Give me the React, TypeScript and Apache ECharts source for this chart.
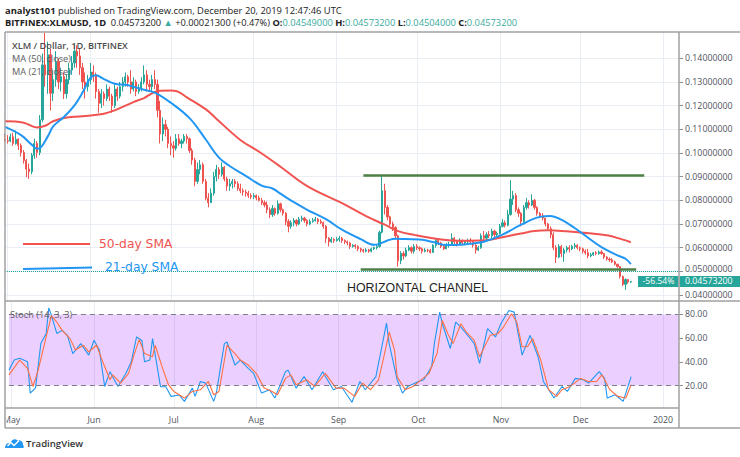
import React, { useEffect, useRef } from 'react';
import * as echarts from 'echarts';

// ---------- data ----------
const FIRST_DAY = '2019-04-30';
const LAST_AXIS_DAY = '2020-01-07';

// daily candles 2019-04-30 .. 2019-12-20 (24/7 market: each bar opens at the prior close)
const FIRST_OPEN = 0.1058;
const CLOSE = [
  0.1052, 0.1050, 0.1068, 0.1040, 0.1058, 0.1032, 0.1002, 0.0968, 0.0932, 0.0921,
  0.0990, 0.1040, 0.1002, 0.1140, 0.1372, 0.1330, 0.1415, 0.1252, 0.1310, 0.1385,
  0.1300, 0.1322, 0.1250, 0.1310, 0.1350, 0.1380, 0.1430, 0.1410, 0.1360, 0.1300,
  0.1280, 0.1310, 0.1342, 0.1330, 0.1260, 0.1210, 0.1250, 0.1230, 0.1270, 0.1240,
  0.1200, 0.1270, 0.1240, 0.1280, 0.1300, 0.1322, 0.1300, 0.1270, 0.1300, 0.1260,
  0.1275, 0.1300, 0.1330, 0.1290, 0.1280, 0.1310, 0.1290, 0.1180, 0.1080, 0.1120,
  0.1100, 0.1040, 0.1030, 0.1020, 0.1060, 0.1040, 0.1050, 0.1070, 0.1060, 0.1010,
  0.0970, 0.0880, 0.0930, 0.0950, 0.0880, 0.0810, 0.0790, 0.0830, 0.0900, 0.0930,
  0.0910, 0.0940, 0.0890, 0.0860, 0.0870, 0.0880, 0.0870, 0.0850, 0.0840, 0.0835,
  0.0830, 0.0820, 0.0815, 0.0820, 0.0810, 0.0800, 0.0790, 0.0780, 0.0760, 0.0740,
  0.0765, 0.0745, 0.0785, 0.0760, 0.0745, 0.0710, 0.0690, 0.0705, 0.0715, 0.0700,
  0.0720, 0.0725, 0.0715, 0.0700, 0.0710, 0.0715, 0.0720, 0.0710, 0.0705, 0.0690,
  0.0640, 0.0625, 0.0635, 0.0630, 0.0635, 0.0640, 0.0630, 0.0625, 0.0620, 0.0605,
  0.0610, 0.0605, 0.0595, 0.0590, 0.0585, 0.0590, 0.0585, 0.0595, 0.0600, 0.0605,
  0.0665, 0.0840, 0.0770, 0.0730, 0.0700, 0.0685, 0.0650, 0.0545, 0.0575, 0.0565,
  0.0590, 0.0600, 0.0585, 0.0605, 0.0600, 0.0595, 0.0585, 0.0590, 0.0588, 0.0580,
  0.0610, 0.0630, 0.0620, 0.0605, 0.0595, 0.0610, 0.0615, 0.0640, 0.0625, 0.0615,
  0.0630, 0.0620, 0.0625, 0.0630, 0.0625, 0.0610, 0.0590, 0.0600, 0.0650, 0.0640,
  0.0655, 0.0650, 0.0670, 0.0655, 0.0660, 0.0690, 0.0705, 0.0695, 0.0740, 0.0805,
  0.0820, 0.0760, 0.0745, 0.0710, 0.0770, 0.0790, 0.0780, 0.0800, 0.0770, 0.0745,
  0.0735, 0.0725, 0.0700, 0.0680, 0.0655, 0.0600, 0.0560, 0.0605, 0.0575, 0.0590,
  0.0600, 0.0595, 0.0605, 0.0610, 0.0600, 0.0595, 0.0585, 0.0578, 0.0565, 0.0570,
  0.0578, 0.0575, 0.0582, 0.0575, 0.0560, 0.0552, 0.0548, 0.0540, 0.0530, 0.0520,
  0.0478, 0.0445, 0.0465, 0.045519, 0.045732,
];
const HIGH = [
  0.1080, 0.1075, 0.1082, 0.1085, 0.1095, 0.1062, 0.1040, 0.1012, 0.0975, 0.0955,
  0.1000, 0.1060, 0.1050, 0.1160, 0.1420, 0.1508, 0.1470, 0.1440, 0.1350, 0.1430,
  0.1400, 0.1360, 0.1340, 0.1330, 0.1380, 0.1410, 0.1460, 0.1455, 0.1440, 0.1380,
  0.1340, 0.1330, 0.1380, 0.1370, 0.1340, 0.1270, 0.1270, 0.1260, 0.1290, 0.1280,
  0.1250, 0.1290, 0.1280, 0.1300, 0.1320, 0.1340, 0.1330, 0.1350, 0.1320, 0.1310,
  0.1290, 0.1320, 0.1370, 0.1350, 0.1310, 0.1330, 0.1350, 0.1310, 0.1220, 0.1150,
  0.1140, 0.1110, 0.1070, 0.1050, 0.1080, 0.1080, 0.1060, 0.1080, 0.1080, 0.1065,
  0.1020, 0.0980, 0.0960, 0.0970, 0.0960, 0.0890, 0.0830, 0.0850, 0.0920, 0.0950,
  0.0940, 0.0960, 0.0945, 0.0900, 0.0890, 0.0890, 0.0890, 0.0880, 0.0870, 0.0850,
  0.0845, 0.0840, 0.0830, 0.0830, 0.0825, 0.0820, 0.0810, 0.0800, 0.0795, 0.0770,
  0.0780, 0.0770, 0.0800, 0.0790, 0.0765, 0.0750, 0.0720, 0.0715, 0.0725, 0.0720,
  0.0730, 0.0735, 0.0730, 0.0720, 0.0720, 0.0725, 0.0730, 0.0725, 0.0720, 0.0710,
  0.0695, 0.0645, 0.0645, 0.0640, 0.0645, 0.0650, 0.0645, 0.0635, 0.0630, 0.0625,
  0.0615, 0.0615, 0.0610, 0.0600, 0.0595, 0.0598, 0.0595, 0.0600, 0.0605, 0.0612,
  0.0672, 0.0905, 0.0870, 0.0780, 0.0735, 0.0710, 0.0690, 0.0655, 0.0585, 0.0585,
  0.0600, 0.0610, 0.0605, 0.0615, 0.0615, 0.0605, 0.0600, 0.0598, 0.0595, 0.0595,
  0.0615, 0.0638, 0.0635, 0.0625, 0.0615, 0.0620, 0.0625, 0.0660, 0.0645, 0.0630,
  0.0640, 0.0635, 0.0632, 0.0638, 0.0640, 0.0630, 0.0615, 0.0608, 0.0660, 0.0670,
  0.0665, 0.0670, 0.0680, 0.0675, 0.0668, 0.0700, 0.0720, 0.0715, 0.0760, 0.0885,
  0.0840, 0.0830, 0.0770, 0.0750, 0.0780, 0.0810, 0.0800, 0.0825, 0.0805, 0.0775,
  0.0750, 0.0745, 0.0725, 0.0705, 0.0690, 0.0665, 0.0610, 0.0615, 0.0612, 0.0600,
  0.0608, 0.0610, 0.0612, 0.0620, 0.0615, 0.0605, 0.0600, 0.0592, 0.0595, 0.0578,
  0.0582, 0.0585, 0.0588, 0.0590, 0.0578, 0.0565, 0.0558, 0.0555, 0.0545, 0.0532,
  0.0522, 0.0482, 0.0470, 0.0468, 0.045732,
];
const LOW = [
  0.1045, 0.1040, 0.1045, 0.1030, 0.1035, 0.1012, 0.0985, 0.0955, 0.0898, 0.0890,
  0.0910, 0.0975, 0.0980, 0.0990, 0.1130, 0.1280, 0.1250, 0.1180, 0.1220, 0.1280,
  0.1270, 0.1260, 0.1228, 0.1230, 0.1290, 0.1330, 0.1360, 0.1360, 0.1330, 0.1270,
  0.1230, 0.1260, 0.1290, 0.1300, 0.1230, 0.1170, 0.1190, 0.1200, 0.1220, 0.1220,
  0.1170, 0.1190, 0.1220, 0.1230, 0.1260, 0.1280, 0.1280, 0.1250, 0.1260, 0.1240,
  0.1250, 0.1260, 0.1290, 0.1260, 0.1260, 0.1260, 0.1270, 0.1150, 0.1040, 0.1050,
  0.1070, 0.1020, 0.0990, 0.0980, 0.1010, 0.1030, 0.1020, 0.1040, 0.1040, 0.1000,
  0.0950, 0.0860, 0.0870, 0.0910, 0.0870, 0.0800, 0.0770, 0.0790, 0.0820, 0.0880,
  0.0890, 0.0900, 0.0880, 0.0840, 0.0840, 0.0850, 0.0855, 0.0840, 0.0830, 0.0820,
  0.0815, 0.0810, 0.0805, 0.0805, 0.0800, 0.0795, 0.0780, 0.0770, 0.0745, 0.0725,
  0.0730, 0.0735, 0.0740, 0.0750, 0.0735, 0.0695, 0.0665, 0.0680, 0.0690, 0.0690,
  0.0695, 0.0710, 0.0705, 0.0690, 0.0695, 0.0705, 0.0710, 0.0700, 0.0700, 0.0680,
  0.0620, 0.0605, 0.0620, 0.0620, 0.0625, 0.0625, 0.0620, 0.0615, 0.0610, 0.0595,
  0.0600, 0.0595, 0.0585, 0.0580, 0.0578, 0.0580, 0.0578, 0.0580, 0.0590, 0.0592,
  0.0600, 0.0660, 0.0740, 0.0715, 0.0690, 0.0670, 0.0635, 0.0520, 0.0530, 0.0550,
  0.0560, 0.0585, 0.0575, 0.0575, 0.0590, 0.0585, 0.0575, 0.0580, 0.0580, 0.0575,
  0.0578, 0.0600, 0.0610, 0.0598, 0.0590, 0.0595, 0.0600, 0.0610, 0.0615, 0.0605,
  0.0610, 0.0610, 0.0615, 0.0615, 0.0618, 0.0600, 0.0575, 0.0585, 0.0595, 0.0630,
  0.0630, 0.0640, 0.0640, 0.0645, 0.0645, 0.0655, 0.0685, 0.0685, 0.0690, 0.0735,
  0.0780, 0.0750, 0.0730, 0.0690, 0.0705, 0.0760, 0.0765, 0.0775, 0.0760, 0.0735,
  0.0725, 0.0715, 0.0690, 0.0672, 0.0640, 0.0590, 0.0535, 0.0555, 0.0560, 0.0540,
  0.0580, 0.0580, 0.0590, 0.0595, 0.0592, 0.0585, 0.0575, 0.0570, 0.0555, 0.0560,
  0.0565, 0.0568, 0.0570, 0.0570, 0.0552, 0.0545, 0.0540, 0.0535, 0.0525, 0.0515,
  0.0470, 0.0438, 0.0422, 0.0448, 0.04504,
];
const LAST_BAR = { open: 0.04549, high: 0.045732, low: 0.04504, close: 0.045732, change: 0.000213, changePct: 0.47 };
const RANGE_CHANGE_LABEL = '-56.54%';

// moving averages: [day index from 2019-04-30, value]
const MA50 = [
  [0, 0.1134], [7, 0.1128], [12, 0.1108], [15, 0.1115], [18, 0.1134], [22, 0.1148], [29, 0.1155],
  [37, 0.1166], [41, 0.1180], [48, 0.1215], [52, 0.1232], [55, 0.1252], [58, 0.1263], [62, 0.1264],
  [64, 0.1262], [68, 0.1235], [75, 0.1185], [79, 0.1145], [88, 0.1055], [95, 0.1005], [103, 0.0942],
  [113, 0.0860], [126, 0.0788], [135, 0.0733], [142, 0.0697], [147, 0.0670], [153, 0.0654],
  [164, 0.0633], [170, 0.0629], [180, 0.0631], [185, 0.0642], [193, 0.0660], [198, 0.0670],
  [203, 0.0673], [210, 0.0669], [215, 0.0664], [225, 0.0652], [231, 0.0634], [234, 0.0623],
];
const MA21 = [
  [0, 0.1110], [6, 0.1075], [10, 0.1035], [12, 0.1018], [13, 0.1020], [16, 0.1070], [18, 0.1112],
  [22, 0.1152], [26, 0.1201], [29, 0.1255], [32, 0.1318], [34, 0.1328], [37, 0.1312], [41, 0.1292],
  [45, 0.1288], [48, 0.1280], [52, 0.1267], [56, 0.1255], [62, 0.1212], [69, 0.1147], [75, 0.1058],
  [80, 0.0980], [84, 0.0945], [90, 0.0903], [96, 0.0862], [100, 0.0850], [103, 0.0828], [108, 0.0792],
  [113, 0.0760], [120, 0.0720], [126, 0.0676], [133, 0.0636], [138, 0.0612], [140, 0.0616],
  [143, 0.0630], [146, 0.0638], [150, 0.0636], [155, 0.0634], [160, 0.0624], [165, 0.0611],
  [170, 0.0612], [175, 0.0618], [179, 0.0625], [186, 0.0655], [193, 0.0697], [200, 0.0730],
  [204, 0.0734], [208, 0.0718], [213, 0.0683], [217, 0.0650], [223, 0.0602], [229, 0.0567],
  [232, 0.0553], [234, 0.0530],
];

// Stoch (14, 3, 3): [day index, value]
const STOCH_K = [
  [0, 33], [2, 41.5], [4, 43], [7, 40], [8, 13.6], [10, 18], [12, 55.4], [14, 64], [15, 85.6], [16, 79],
  [18, 64], [20, 66.6], [22, 62.4], [24, 47], [27, 55.4], [30, 45.7], [32, 58.2], [34, 50], [36, 19.2],
  [38, 31.7], [41, 19.2], [44, 30.3], [46, 40], [48, 61], [50, 58], [51, 40], [53, 41.5], [54, 59.6],
  [57, 19], [59, 19], [61, 10.8], [64, 12], [66, 6.6], [69, 17.8], [70, 10.8], [72, 23.4], [74, 22],
  [77, 6.6], [78, 13.6], [81, 55.4], [82, 56.8], [85, 37.3], [87, 41.5], [90, 34.5], [92, 30.3],
  [95, 13.6], [98, 16.4], [100, 9.4], [104, 31.7], [105, 33], [108, 17.8], [111, 27.5], [114, 16.4],
  [118, 31.7], [122, 16.4], [125, 19.2], [129, 5.8], [132, 23.4], [134, 16.4], [138, 27.5], [140, 50],
  [142, 72.7], [143, 55.4], [146, 24.8], [148, 13.6], [150, 19.2], [154, 23.4], [156, 24.8], [159, 36],
  [160, 55.4], [162, 82], [163, 72.2], [166, 51.3], [168, 73.6], [170, 69.4], [173, 61], [175, 55.4],
  [177, 38.7], [180, 68], [183, 61], [185, 72.2], [188, 83.3], [190, 82], [192, 58.2], [193, 45.7],
  [196, 62.4], [199, 44.3], [201, 23.4], [205, 9.4], [208, 19.2], [210, 15], [213, 26], [216, 24.8],
  [218, 22], [222, 31.7], [224, 26], [225, 9.4], [228, 12.2], [231, 6.6], [234, 27.5],
];
const STOCH_D = [
  [0, 29], [4, 41.5], [7, 34.5], [9, 19.2], [11, 33], [14, 61], [16, 79], [18, 73.6], [20, 66.6],
  [23, 59.6], [25, 50], [28, 54], [30, 48.5], [33, 54], [35, 41.5], [38, 24.8], [39, 29], [42, 22],
  [45, 30.3], [47, 45.7], [49, 58.8], [51, 47], [54, 44.3], [55, 54], [58, 33], [60, 20.6], [62, 15],
  [66, 9.4], [69, 15], [72, 16.4], [75, 23.4], [77, 12.2], [79, 15], [82, 54], [85, 47], [87, 41.5],
  [90, 37.3], [93, 30.3], [96, 17.8], [99, 15], [101, 12.2], [104, 26], [106, 29], [108, 20.6],
  [112, 24.8], [115, 19.2], [119, 30.3], [123, 17.8], [126, 17.8], [130, 10.8], [133, 22], [136, 16.4],
  [139, 24.8], [141, 44.3], [143, 65.2], [145, 50], [146, 27.5], [149, 16.4], [152, 19.2], [155, 24.8],
  [158, 30.3], [161, 47], [163, 75], [165, 64], [167, 55.4], [170, 72.2], [172, 65.2], [175, 58.2],
  [177, 44.3], [181, 62.4], [184, 64], [186, 69.4], [189, 80.6], [191, 73.6], [193, 52.7], [195, 52.7],
  [197, 59.6], [200, 41.5], [203, 16.4], [206, 10.8], [208, 16.4], [211, 19.2], [215, 26], [218, 23.4],
  [221, 23.4], [223, 29], [226, 16.4], [229, 10.8], [232, 9.4], [234, 20.6],
];

const PRICE_TICKS = [0.04, 0.05, 0.06, 0.07, 0.08, 0.09, 0.10, 0.11, 0.12, 0.13, 0.14];
const STOCH_TICKS = [20, 40, 60, 80];
const STOCH_BAND = [20, 80];
const CHANNEL_TOP = { price: 0.0907, from: '2019-09-11', to: '2019-12-25' };
const CHANNEL_BOTTOM = { price: 0.0508, from: '2019-09-10', to: '2019-12-22' };
const MONTHS = ['Jan', 'Feb', 'Mar', 'Apr', 'May', 'Jun', 'Jul', 'Aug', 'Sep', 'Oct', 'Nov', 'Dec'];

// ---------- styling ----------
const FONT = "'Open Sans', sans-serif";
const UP = '#26a69a';
const DOWN = '#ef5350';
const TEAL_TEXT = '#3aab9e';
const MA50_COLOR = '#f05350';
const MA21_COLOR = '#2196f3';
const K_COLOR = '#2196f3';
const D_COLOR = '#ff7043';
const CHANNEL_COLOR = '#4e7f47';
const GRID_COLOR = '#e8eef3';
const AXIS_TEXT = '#4f535c';
const FRAME = '#a0a0a0';

function buildDays(start: string, end: string): string[] {
  const out: string[] = [];
  const d = new Date(start + 'T00:00:00Z');
  const e = new Date(end + 'T00:00:00Z');
  while (d.getTime() <= e.getTime()) {
    out.push(d.toISOString().slice(0, 10));
    d.setUTCDate(d.getUTCDate() + 1);
  }
  return out;
}
const DAYS = buildDays(FIRST_DAY, LAST_AXIS_DAY);
const isMonthStart = (_i: number, v: string) => typeof v === 'string' && v.slice(8) === '01';
const monthLabel = (v: string) => {
  const [y, m] = v.split('-');
  return m === '01' ? y : MONTHS[Number(m) - 1];
};
const fmt8 = (v: number) => v.toFixed(8);

echarts.graphic.registerShape(
  'tvLogo',
  echarts.graphic.extendPath('M0 11 C0 7.5 2.5 5.5 5.5 6 C6.5 2.5 10 1 12.5 3.5 C15.5 2.5 18.5 5 18 8 C19.2 8.6 19.2 11 18 11 Z', {})
);

function buildOption() {
  const candles = CLOSE.map((c, i) => {
    const open = i === 0 ? FIRST_OPEN : i === CLOSE.length - 1 ? LAST_BAR.open : CLOSE[i - 1];
    return [open, c, LOW[i], HIGH[i]];
  });
  return {
    animation: false,
    textStyle: { fontFamily: FONT },
    grid: [
      { left: 5, top: 32, width: 674, height: 269 },
      { left: 5, top: 301, width: 674, height: 107 },
    ],
    xAxis: [
      {
        type: 'category', gridIndex: 0, data: DAYS, boundaryGap: false,
        axisLine: { show: false }, axisTick: { show: false }, axisLabel: { show: false },
        splitLine: { show: true, interval: isMonthStart, lineStyle: { color: GRID_COLOR, width: 1 } },
      },
      {
        type: 'category', gridIndex: 1, data: DAYS, boundaryGap: false,
        axisLine: { show: false }, axisTick: { show: false },
        axisLabel: {
          show: true, interval: isMonthStart, formatter: monthLabel, color: AXIS_TEXT, fontSize: 8.8, margin: 7,
          alignMinLabel: 'center', alignMaxLabel: 'center', hideOverlap: false,
        },
        splitLine: { show: true, interval: isMonthStart, lineStyle: { color: GRID_COLOR, width: 1 } },
      },
    ],
    yAxis: [
      {
        type: 'value', gridIndex: 0, position: 'right', min: 0.03746, max: 0.1511,
        axisLine: { show: false },
        axisTick: { show: true, customValues: PRICE_TICKS, length: 4, lineStyle: { color: '#8f8f8f' } },
        axisLabel: {
          customValues: PRICE_TICKS,
          formatter: (v: number) => (Math.abs(v - 0.05) < 1e-9 ? `{up|${fmt8(v)}}` : fmt8(v)),
          rich: { up: { fontSize: 8.8, color: AXIS_TEXT, fontFamily: FONT, padding: [0, 0, 4, 0] } },
          color: AXIS_TEXT, fontSize: 8.8, margin: 6,
        },
        splitLine: { show: true, lineStyle: { color: GRID_COLOR, width: 1 } },
      },
      {
        type: 'value', gridIndex: 1, position: 'right', min: 1.0, max: 91.4,
        axisLine: { show: false },
        axisTick: { show: true, customValues: STOCH_TICKS, length: 4, lineStyle: { color: '#8f8f8f' } },
        axisLabel: { customValues: STOCH_TICKS, formatter: (v: number) => v.toFixed(2), color: AXIS_TEXT, fontSize: 8.8, margin: 6 },
        splitLine: { show: false },
      },
    ],
    series: [
      {
        type: 'candlestick', xAxisIndex: 0, yAxisIndex: 0, data: candles, barWidth: '62%',
        itemStyle: { color: UP, color0: DOWN, borderColor: UP, borderColor0: DOWN, borderWidth: 1 },
        markLine: {
          silent: true, symbol: ['none', 'none'], label: { show: false },
          lineStyle: { color: CHANNEL_COLOR, width: 2.5, type: 'solid' },
          data: [
            [{ coord: [CHANNEL_TOP.from, CHANNEL_TOP.price] }, { coord: [CHANNEL_TOP.to, CHANNEL_TOP.price] }],
            [{ coord: [CHANNEL_BOTTOM.from, CHANNEL_BOTTOM.price] }, { coord: [CHANNEL_BOTTOM.to, CHANNEL_BOTTOM.price] }],
            { yAxis: LAST_BAR.close, lineStyle: { type: 'dotted', color: UP, width: 1 } },
          ],
        },
      },
      {
        type: 'line', name: 'MA50', xAxisIndex: 0, yAxisIndex: 0, data: MA50, smooth: 0.4,
        showSymbol: false, lineStyle: { color: MA50_COLOR, width: 2 }, itemStyle: { color: MA50_COLOR }, z: 3,
      },
      {
        type: 'line', name: 'MA21', xAxisIndex: 0, yAxisIndex: 0, data: MA21, smooth: 0.4,
        showSymbol: false, lineStyle: { color: MA21_COLOR, width: 2 }, itemStyle: { color: MA21_COLOR }, z: 3,
      },
      {
        type: 'line', name: '%K', xAxisIndex: 1, yAxisIndex: 1, data: STOCH_K, showSymbol: false,
        lineStyle: { color: K_COLOR, width: 1.1 }, itemStyle: { color: K_COLOR },
        markArea: {
          silent: true, itemStyle: { color: 'rgba(153, 21, 255, 0.2)' },
          data: [[{ yAxis: STOCH_BAND[0] }, { yAxis: STOCH_BAND[1] }]],
        },
        markLine: {
          silent: true, symbol: ['none', 'none'], label: { show: false },
          lineStyle: { color: '#7d7f88', width: 1, type: [5, 4] },
          data: STOCH_BAND.map((v) => ({ yAxis: v })),
        },
      },
      {
        type: 'line', name: '%D', xAxisIndex: 1, yAxisIndex: 1, data: STOCH_D, showSymbol: false,
        lineStyle: { color: D_COLOR, width: 1.1 }, itemStyle: { color: D_COLOR },
      },
    ],
  };
}

function buildGraphics(yLast: number) {
  const rich = (size: number) => ({
    b: { fontFamily: FONT, fontSize: size, fontWeight: 'bold', fill: '#222' },
    n: { fontFamily: FONT, fontSize: size, fill: '#222' },
    g: { fontFamily: FONT, fontSize: size, fill: TEAL_TEXT },
  });
  const line2 =
    `{b|BITFINEX:XLMUSD, 1D}{n|  ${fmt8(LAST_BAR.close)} }{g|▲}{n| +${fmt8(LAST_BAR.change)} (+${LAST_BAR.changePct.toFixed(2)}%) }` +
    `{b|O:}{g|${fmt8(LAST_BAR.open)}}{b| H:}{g|${fmt8(LAST_BAR.high)}}{b| L:}{g|${fmt8(LAST_BAR.low)}}{b| C:}{g|${fmt8(LAST_BAR.close)}}`;
  const frameLine = (x1: number, y1: number, x2: number, y2: number) => ({
    type: 'line', z: 60, silent: true, shape: { x1, y1, x2, y2 }, style: { stroke: FRAME, lineWidth: 1.5 },
  });
  const txt = (x: number, y: number, text: string, size: number, fill: string, extra: any = {}) => ({
    type: 'text', z: 57, silent: true, x, y,
    style: { text, fontSize: size, fontFamily: FONT, fill, verticalAlign: 'middle', align: 'left', ...extra },
  });
  return [
    // header
    { type: 'text', z: 57, x: 5, y: 10, style: { text: '{b|analyst101}{n| published on TradingView.com, December 20, 2019 12:47:46 UTC}', rich: rich(9.4), verticalAlign: 'middle' } },
    { type: 'text', z: 57, x: 5, y: 22.5, style: { text: line2, rich: rich(9.3), verticalAlign: 'middle' } },
    // frame
    frameLine(5, 32, 740, 32),
    frameLine(5, 32, 5, 428),
    frameLine(5, 428, 740, 428),
    frameLine(5, 301, 740, 301),
    frameLine(5, 408, 679, 408),
    frameLine(679, 32, 679, 428),
    // clip the partial first month label like the reference
    { type: 'rect', z: 58, silent: true, shape: { x: 0, y: 409, width: 6.6, height: 18 }, style: { fill: '#fff' } },
    // pane legends
    txt(12, 45, 'XLM / Dollar, 1D, BITFINEX', 9.2, '#4d4d4d', { fontWeight: 600 }),
    txt(12, 58, 'MA (50, close)', 9.2, '#606060'),
    txt(12, 71, 'MA (21, close)', 9.2, '#606060'),
    txt(10, 314.5, 'Stoch (14, 3, 3)', 9.2, '#606060'),
    // SMA annotations
    { type: 'line', z: 55, silent: true, shape: { x1: 23, y1: 244, x2: 90, y2: 244 }, style: { stroke: MA50_COLOR, lineWidth: 2 } },
    { type: 'line', z: 55, silent: true, shape: { x1: 23, y1: 269, x2: 92, y2: 267.5 }, style: { stroke: MA21_COLOR, lineWidth: 2 } },
    txt(99, 243.5, '50-day SMA', 12.3, MA50_COLOR, { fontFamily: "'DejaVu Sans', sans-serif" }),
    txt(105, 266.5, '21-day SMA', 12.3, MA21_COLOR, { fontFamily: "'DejaVu Sans', sans-serif" }),
    txt(347, 288, 'HORIZONTAL CHANNEL', 12.4, '#1f1f1f', { fontFamily: "'Liberation Sans', Arial, sans-serif" }),
    // last price tags
    { type: 'rect', z: 56, silent: true, shape: { x: 638, y: yLast - 5.5, width: 40.5, height: 11 }, style: { fill: UP } },
    txt(658.5, yLast, RANGE_CHANGE_LABEL, 8.6, '#ffffff', { align: 'center' }),
    { type: 'rect', z: 56, silent: true, shape: { x: 679.5, y: yLast - 5.5, width: 61, height: 11 }, style: { fill: UP } },
    txt(685, yLast, fmt8(LAST_BAR.close), 8.8, '#ffffff'),
    // footer logo
    { type: 'tvLogo', z: 55, silent: true, x: 5, y: 437, scaleX: 1, scaleY: 1, style: { fill: '#2196f3' } },
    { type: 'polyline', z: 56, silent: true, shape: { points: [[7.5, 446], [11, 442.5], [14, 445.5], [19, 440.5]] }, style: { stroke: '#fff', lineWidth: 1.4, fill: null } },
    txt(26, 443.5, 'TradingView', 9.6, '#333333', { fontWeight: 600 }),
  ];
}

export default function App() {
  const ref = useRef<HTMLDivElement>(null);
  useEffect(() => {
    document.body.style.margin = '0';
    const chart = echarts.init(ref.current as HTMLDivElement, undefined, { renderer: 'svg', width: 740, height: 457 });
    chart.setOption(buildOption() as any);
    const yLast = chart.convertToPixel({ yAxisIndex: 0 } as any, LAST_BAR.close) as unknown as number;
    chart.setOption({ graphic: buildGraphics(yLast) } as any);
    return () => chart.dispose();
  }, []);
  return (
    <div
      ref={ref}
      style={{ position: 'absolute', left: 0, top: 0, width: 740, height: 457, background: '#ffffff' }}
    />
  );
}
